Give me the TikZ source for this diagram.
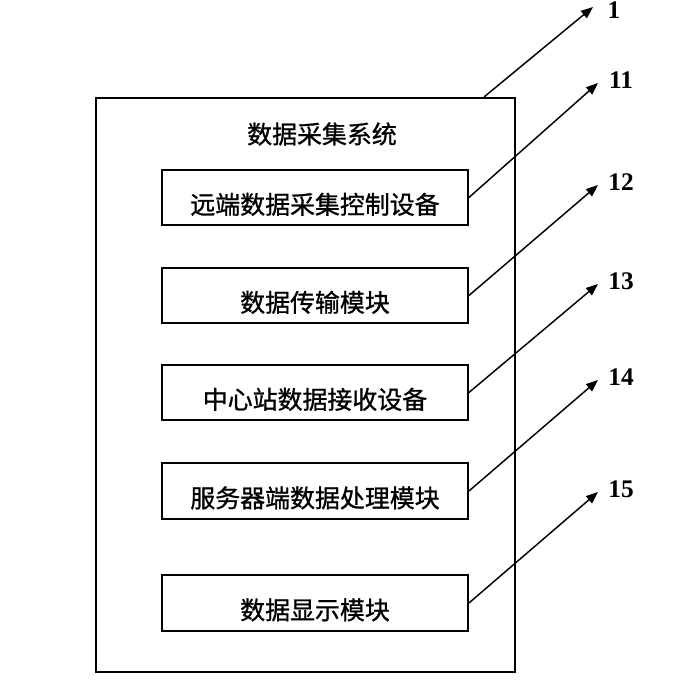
\documentclass[tikz,border=0pt]{standalone}
\usepackage{fontspec}
\newfontfamily\cjk{Noto Sans CJK SC}[FakeBold=1]
\newfontfamily\numfont{Liberation Serif}
\usetikzlibrary{arrows.meta,positioning}
\tikzset{
  sysb/.style   = {draw, line width=1.5pt, inner sep=0pt,
                   minimum width=314.25pt, minimum height=430.5pt},
  modb/.style   = {draw, line width=1.4pt, inner sep=0pt,
                   minimum width=229.5pt, minimum height=41.5pt,
                   font=\cjk\fontsize{18.7}{18.7}\selectfont,
                   text height=25.5pt, text depth=1pt},
  ttl/.style    = {font=\cjk\fontsize{18.7}{18.7}\selectfont},
  num/.style    = {font=\numfont\bfseries\fontsize{19}{19}\selectfont},
  ar/.style     = {-{Triangle[length=9pt,width=7pt]}, line width=1.1pt},
}

\begin{document}
\begin{tikzpicture}[x=0.75pt,y=-0.75pt]
\useasboundingbox (0,0) rectangle (674,683);

% -- the system box ----------------------------------------------------------
\node[sysb] (sys) at (305.5,385) {};
\node[ttl] (systitle) at (322,134) {数据采集系统};

% -- modules: number/centre y/text/arrow tip y -------------------------------
\def\modules{
  11/197.5/远端数据采集控制设备/83,
  12/295.5/数据传输模块/185,
  13/392.5/中心站数据接收设备/284,
  14/491/服务器端数据处理模块/380,
  15/603/数据显示模块/492}

\foreach \n/\y/\t/\ty in \modules {
  \node[modb] (m\n) at (315,\y) {\t};
  \coordinate (tip\n) at (598,\ty);
  \node[num] (lbl\n) at (621,{\ty-3}) {\n};
  \draw[ar] (m\n.east) -- (tip\n);
}

% -- the system arrow --------------------------------------------------------
\coordinate (tip1) at (593,7);
\node[num] (lbl1) at (614,10) {1};
\draw[ar] ([xshift=-24pt]sys.north east) -- (tip1);

\end{tikzpicture}
\end{document}
